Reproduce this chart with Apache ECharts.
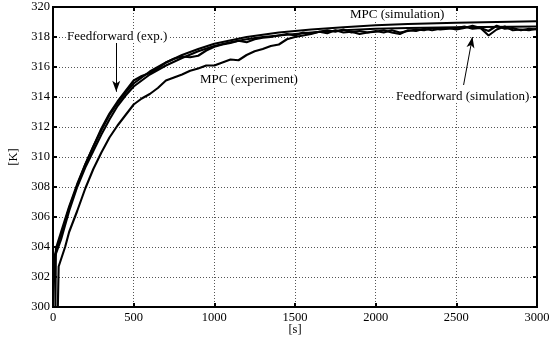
<!DOCTYPE html>
<html>
<head>
<meta charset="utf-8">
<script src="https://cdn.jsdelivr.net/npm/echarts@6/dist/echarts.min.js"></script>
<style>html,body{margin:0;padding:0;background:#fff}#c{width:553px;height:339px}</style>
</head>
<body>
<div id="c"></div>
<script>
// ---- data ----
var xTicks = [0, 500, 1000, 1500, 2000, 2500, 3000];
var yTicks = [300, 302, 304, 306, 308, 310, 312, 314, 316, 318, 320];

var ffSimT = [0, 50, 100, 150, 200, 250, 300, 350, 400, 450, 500, 600, 700, 800, 900, 1000, 1100, 1200, 1300, 1400, 1600, 1800, 2000, 2200, 2500, 3000];
var ffSimV = [303.0, 304.5, 306.4, 308.0, 309.3, 310.4, 311.5, 312.5, 313.4, 314.1, 314.7, 315.5, 316.1, 316.6, 317.05, 317.4, 317.65, 317.85, 318.0, 318.1, 318.3, 318.45, 318.55, 318.6, 318.65, 318.7];

var mpcSimT = [0, 15, 18, 50, 100, 150, 200, 250, 300, 350, 400, 450, 500, 600, 700, 800, 900, 1000, 1200, 1400, 1600, 1800, 2000, 2200, 2500, 3000];
var mpcSimV = [300.0, 300.0, 303.9, 305.0, 306.7, 308.2, 309.5, 310.7, 311.8, 312.8, 313.6, 314.3, 314.9, 315.7, 316.3, 316.8, 317.2, 317.55, 318.0, 318.3, 318.5, 318.65, 318.78, 318.87, 318.95, 319.05];

var ffExpT = [0, 10, 12, 50, 100, 150, 200, 250, 300, 350, 400, 450, 500, 550, 600, 650, 700, 750, 800, 850, 900, 950, 1000, 1050, 1100, 1150, 1200, 1250, 1300, 1350, 1400, 1450, 1500, 1550, 1600, 1650, 1700, 1750, 1800, 1850, 1900, 1950, 2000, 2050, 2100, 2150, 2200, 2250, 2300, 2350, 2400, 2450, 2500, 2550, 2600, 2650, 2700, 2750, 2800, 2850, 2900, 2950, 3000];
var ffExpV = [300.0, 300.0, 303.5, 304.8, 306.6, 308.1, 309.5, 310.7, 311.9, 312.9, 313.7, 314.4, 315.1, 315.4, 315.6, 315.9, 316.3, 316.55, 316.7, 316.65, 316.75, 317.1, 317.35, 317.5, 317.6, 317.75, 317.65, 317.85, 317.95, 318.0, 318.1, 318.2, 318.1, 318.3, 318.25, 318.35, 318.45, 318.35, 318.5, 318.3, 318.4, 318.3, 318.35, 318.45, 318.3, 318.2, 318.45, 318.4, 318.55, 318.45, 318.55, 318.6, 318.5, 318.6, 318.75, 318.6, 318.4, 318.75, 318.55, 318.6, 318.45, 318.55, 318.5];

var mpcExpT = [0, 30, 35, 75, 100, 150, 200, 250, 300, 350, 400, 450, 500, 550, 600, 650, 700, 750, 800, 850, 900, 950, 1000, 1050, 1100, 1150, 1200, 1250, 1300, 1350, 1400, 1450, 1500, 1550, 1600, 1650, 1700, 1750, 1800, 1850, 1900, 1950, 2000, 2050, 2100, 2150, 2200, 2250, 2300, 2350, 2400, 2450, 2500, 2550, 2600, 2650, 2700, 2750, 2800, 2850, 2900, 2950, 3000];
var mpcExpV = [300.0, 300.0, 302.7, 304.0, 305.0, 306.4, 307.9, 309.2, 310.3, 311.3, 312.1, 312.8, 313.5, 313.9, 314.2, 314.6, 315.1, 315.3, 315.5, 315.75, 315.9, 316.1, 316.1, 316.3, 316.5, 316.45, 316.8, 317.05, 317.2, 317.4, 317.5, 317.85, 318.0, 318.1, 318.2, 318.35, 318.25, 318.45, 318.3, 318.35, 318.2, 318.3, 318.4, 318.3, 318.45, 318.3, 318.4, 318.5, 318.45, 318.6, 318.5, 318.55, 318.6, 318.7, 318.55, 318.6, 318.1, 318.5, 318.7, 318.45, 318.5, 318.45, 318.55];

// annotation arrows in data coordinates [from, to]
var arrowFFexp = [[392, 317.6], [392, 314.35]];
var arrowFFsim = [[2545, 314.8], [2600, 318.0]];

function pairs(t, v) { return t.map(function (x, i) { return [x, v[i]]; }); }

var FONT = '"Liberation Serif", "Times New Roman", serif';
var chart = echarts.init(document.getElementById('c'), null, { renderer: 'canvas' });

function lineSeries(name, t, v, extra) {
  var s = {
    name: name, type: 'line', data: pairs(t, v), showSymbol: false, symbol: 'none',
    lineStyle: { color: '#000', width: 2.1 }, itemStyle: { color: '#000' },
    animation: false, z: 3
  };
  if (extra) for (var k in extra) s[k] = extra[k];
  return s;
}

function arrowLine(a) {
  return {
    silent: true, symbol: ['none', 'arrow'], symbolSize: [6, 11],
    label: { show: false }, lineStyle: { color: '#000', width: 1, type: 'solid' },
    animation: false,
    data: [[{ coord: a[0] }, { coord: a[1] }]]
  };
}

var plain = function (v) { return String(v); };

var option = {
  backgroundColor: '#fff',
  animation: false,
  grid: { left: 53, right: 16, top: 7, bottom: 32, show: true, borderColor: '#000', borderWidth: 2, backgroundColor: '#fff', containLabel: false, outerBoundsMode: 'none' },
  xAxis: [{
    type: 'value', min: 0, max: 3000, interval: 500, position: 'bottom',
    name: '[s]', nameLocation: 'middle', nameGap: 16, nameMoveOverlap: false,
    nameTextStyle: { fontFamily: FONT, fontSize: 12.5, color: '#000' },
    axisLine: { show: true, onZero: false, lineStyle: { color: '#000', width: 2 } },
    axisTick: { show: true, inside: true, length: 4, lineStyle: { color: '#000', width: 2 } },
    axisLabel: { fontFamily: FONT, fontSize: 12.5, color: '#000', margin: 4, formatter: plain },
    splitLine: { show: true, lineStyle: { color: '#555', width: 1, type: [1, 2] } }
  }, {
    type: 'value', min: 0, max: 3000, interval: 500, position: 'top',
    axisLine: { show: true, onZero: false, lineStyle: { color: '#000', width: 2 } },
    axisTick: { show: true, inside: true, length: 4, lineStyle: { color: '#000', width: 2 } },
    axisLabel: { show: false }, splitLine: { show: false }
  }],
  yAxis: [{
    type: 'value', min: 300, max: 320, interval: 2, position: 'left',
    name: '[K]', nameLocation: 'middle', nameGap: 33, nameRotate: 90, nameMoveOverlap: false,
    nameTextStyle: { fontFamily: FONT, fontSize: 12.5, color: '#000' },
    axisLine: { show: true, onZero: false, lineStyle: { color: '#000', width: 2 } },
    axisTick: { show: true, inside: true, length: 4, lineStyle: { color: '#000', width: 2 } },
    axisLabel: { fontFamily: FONT, fontSize: 12.5, color: '#000', margin: 3, formatter: plain },
    splitLine: { show: true, lineStyle: { color: '#555', width: 1, type: [1, 2] } }
  }, {
    type: 'value', min: 300, max: 320, interval: 2, position: 'right',
    axisLine: { show: true, onZero: false, lineStyle: { color: '#000', width: 2 } },
    axisTick: { show: true, inside: true, length: 4, lineStyle: { color: '#000', width: 2 } },
    axisLabel: { show: false }, splitLine: { show: false }
  }],
  series: [
    lineSeries('MPC (experiment)', mpcExpT, mpcExpV),
    lineSeries('Feedforward (exp.)', ffExpT, ffExpV, { markLine: arrowLine(arrowFFexp) }),
    lineSeries('Feedforward (simulation)', ffSimT, ffSimV, { markLine: arrowLine(arrowFFsim) }),
    lineSeries('MPC (simulation)', mpcSimT, mpcSimV)
  ]
};
chart.setOption(option);

function label(text, x, y) {
  return {
    type: 'text', left: x, top: y, z: 100, silent: true,
    style: { text: text, font: '13px ' + FONT, fill: '#000', backgroundColor: '#fff', padding: [0, 1] }
  };
}
chart.setOption({
  graphic: [
    label('Feedforward (exp.)', 66, 30),
    label('MPC (experiment)', 199, 73),
    label('MPC (simulation)', 349, 8),
    label('Feedforward (simulation)', 395, 90)
  ]
});
</script>
</body>
</html>
